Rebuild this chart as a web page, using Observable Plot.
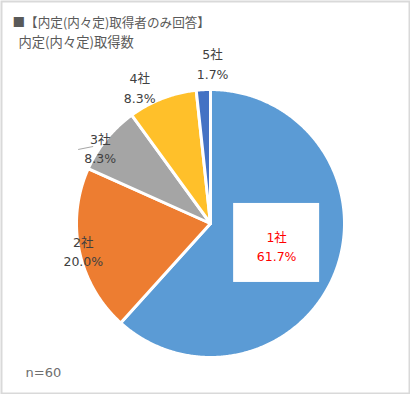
<!DOCTYPE html>
<html>
<head>
<meta charset="utf-8">
<script src="https://cdn.jsdelivr.net/npm/d3@7"></script>
<script src="https://cdn.jsdelivr.net/npm/@observablehq/plot@0.6"></script>
<style>
  html, body { margin: 0; padding: 0; background: #fff; }
  #chart svg { display: block; }
</style>
</head>
<body>
<div id="chart"></div>
<script>
// ---- data ----
const categories = ["1社", "2社", "3社", "4社", "5社"];
const shares = [61.7, 20.0, 8.3, 8.3, 1.7];
const colors = ["#5B9BD5", "#ED7D31", "#A5A5A5", "#FFC02A", "#4472C4"];
const titleLines = ["■【内定(内々定)取得者のみ回答】", "内定(内々定)取得数"];
const note = "n=60";

// ---- layout (styling) ----
const W = 410, H = 394, R = 134, CX = 210, CY = 223;
const labelRadius = [0.52, 0.97, 1.0, 1.15, 1.2];
const labelShiftDeg = [-2.7, 0, -4.5, -6.3, 3.8];
const labelColors = ["#FF0000", "#404040", "#404040", "#404040", "#404040"];
const latin = "'DejaVu Sans', 'Noto Sans CJK JP', sans-serif";
const cjk = "'Noto Sans CJK JP', sans-serif";

const arcs = d3.pie().sort(null).value(d => d)(shares);

// slice polygons in unit space (radius 1, y up)
const slicePts = [];
arcs.forEach((a, i) => {
  slicePts.push({cat: categories[i], x: 0, y: 0});
  const n = Math.max(2, Math.ceil((a.endAngle - a.startAngle) / (Math.PI / 360)));
  for (let k = 0; k <= n; k++) {
    const t = a.startAngle + (a.endAngle - a.startAngle) * k / n;
    slicePts.push({cat: categories[i], x: Math.sin(t), y: Math.cos(t)});
  }
});

const labels = arcs.map((a, i) => {
  const m = (a.startAngle + a.endAngle) / 2 + labelShiftDeg[i] * Math.PI / 180;
  return {
    i,
    text: `${categories[i]}\n${shares[i].toFixed(1)}%`,
    x: labelRadius[i] * Math.sin(m),
    y: labelRadius[i] * Math.cos(m),
    color: labelColors[i]
  };
});

const px = 1 / R;
const box = labels[0];
const lead = labels[2];

const chart = Plot.plot({
  width: W,
  height: H,
  margin: 0,
  x: {domain: [-CX / R, (W - CX) / R], axis: null},
  y: {domain: [-(H - CY) / R, CY / R], axis: null},
  color: {domain: categories, range: colors},
  style: {background: "#fff", fontFamily: latin},
  marks: [
    Plot.line(slicePts, {
      x: "x", y: "y", z: "cat", fill: "cat",
      stroke: "white", strokeWidth: 3, curve: "linear-closed"
    }),
    Plot.rect([box], {
      x1: d => d.x - 43 * px, x2: d => d.x + 43 * px,
      y1: d => d.y - 37 * px, y2: d => d.y + 42 * px,
      fill: "white"
    }),
    Plot.link([lead], {
      x1: d => d.x - 22 * px, y1: d => d.y - 2 * px,
      x2: d => d.x - 7 * px, y2: d => d.y + 1 * px,
      stroke: "#A6A6A6", strokeWidth: 1
    }),
    Plot.text(labels, {
      x: "x", y: "y", text: "text", fill: "color",
      fontSize: 12.5, lineHeight: 1.55, fontFamily: latin,
      textAnchor: "middle", lineAnchor: "middle"
    }),
    Plot.text([titleLines[0]], {
      frameAnchor: "top-left", dx: 12, dy: 22, lineAnchor: "middle",
      fontSize: 12.6, fill: "#595959", fontFamily: cjk
    }),
    Plot.text([titleLines[1]], {
      frameAnchor: "top-left", dx: 18, dy: 42, lineAnchor: "middle",
      fontSize: 13.3, fill: "#595959", fontFamily: cjk
    }),
    Plot.text([note], {
      frameAnchor: "bottom-left", dx: 25, dy: -22, lineAnchor: "middle",
      fontSize: 13, fill: "#6E6E6E", fontFamily: latin
    }),
    Plot.frame({stroke: "#D9D9D9", strokeWidth: 2, inset: 1})
  ]
});
document.getElementById("chart").appendChild(chart);
</script>
</body>
</html>
